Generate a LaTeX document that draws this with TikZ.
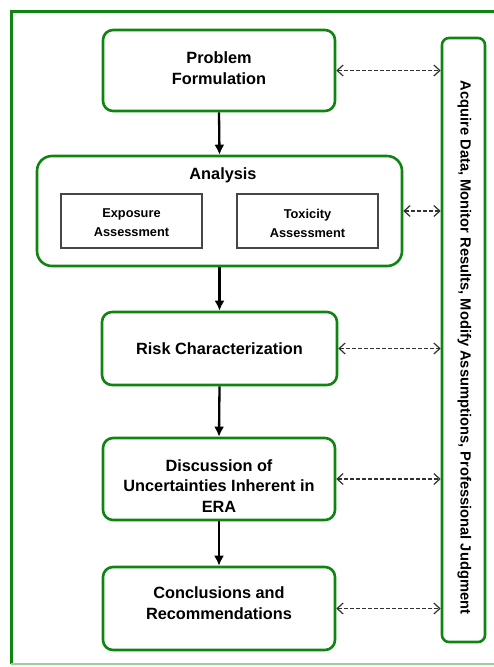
\documentclass[tikz,border=0pt]{standalone}
\usepackage{fontspec}
\setmainfont{Liberation Sans}
\usetikzlibrary{arrows.meta}
\definecolor{frgreen}{RGB}{16,132,16}
\definecolor{lightfr}{RGB}{150,210,150}
\definecolor{dashgray}{RGB}{50,50,50}
\definecolor{boxgray}{RGB}{70,70,70}
\tikzset{
  greenbox/.style={draw=frgreen, line width=2.6pt, rounded corners=10pt, minimum width=#1, inner sep=0pt},
  subbox/.style={draw=boxgray, line width=1.4pt, minimum width=141pt, minimum height=54pt, inner sep=0pt},
  maintext/.style={font=\fontsize{16.3}{20.5}\selectfont\bfseries, align=center, inner sep=0pt},
  subtext/.style={font=\fontsize{12.8}{19}\selectfont\bfseries, align=center, inner sep=0pt},
  flowarrow/.style={line width=2.3pt, -{Latex[length=10pt,width=10pt]}},
  feedback/.style={draw=dashgray, line width=1.2pt, dashed, dash pattern=on 4pt off 2pt, {Straight Barb[length=6pt,width=11pt]}-{Straight Barb[length=6pt,width=11pt]}}
}
\begin{document}
\begin{tikzpicture}[x=1pt,y=-1pt]
\useasboundingbox (0,0) rectangle (493,667);
% outer frame
\draw[frgreen, line width=3pt] (494,11) -- (11,11) -- (11,664);
\draw[lightfr, line width=2pt] (11,664) -- (494,664);

% boxes
\node[greenbox=232pt, minimum height=81pt] (pf) at (219,70.5) {};
\node[greenbox=365pt, minimum height=110pt, rounded corners=15pt] (an) at (219.5,211) {};
\node[subbox] (ex) at (131.5,221) {};
\node[subbox] (tx) at (307.5,221) {};
\node[greenbox=235pt, minimum height=73pt] (rc) at (219.5,348.5) {};
\node[greenbox=232pt, minimum height=82pt] (du) at (219,479) {};
\node[greenbox=232pt, minimum height=83pt] (cr) at (219,608.5) {};
\node[greenbox=43pt, minimum height=604pt, rounded corners=7pt] (rb) at (463.5,340) {};

% texts
\node[maintext] (pft) at (219,68) {Problem\\Formulation};
\node[maintext] (ant) at (223,175) {Analysis};
\node[subtext] (ext) at (131.5,223) {Exposure\\Assessment};
\node[subtext] (txt) at (307.5,223) {Toxicity\\Assessment};
\node[maintext] (rct) at (219.5,349) {Risk Characterization};
\node[maintext] (dut) at (219,486) {Discussion of\\Uncertainties Inherent in\\ERA};
\node[maintext] (crt) at (219,603) {Conclusions and\\Recommendations};
\node[font=\fontsize{14.7}{16}\selectfont\bfseries, rotate=-90, inner sep=0pt] (rbt) at (464.5,347.5)
  {Acquire Data, Monitor Results, Modify Assumptions, Professional Judgment};

% flow arrows
\draw[flowarrow] (pf.south) -- (an.north);
\draw[flowarrow] (an.south) -- (rc.north);
\draw[flowarrow] (rc.south) -- (du.north);
\draw[flowarrow] (du.south) -- (cr.north);

% feedback arrows
\draw[feedback] (pf.east) -- (pf.east -| rb.west);
\draw[feedback] (an.east) -- (an.east -| rb.west);
\draw[feedback] (rc.east) -- (rc.east -| rb.west);
\draw[feedback] (du.east) -- (du.east -| rb.west);
\draw[feedback] (cr.east) -- (cr.east -| rb.west);
\end{tikzpicture}
\end{document}
